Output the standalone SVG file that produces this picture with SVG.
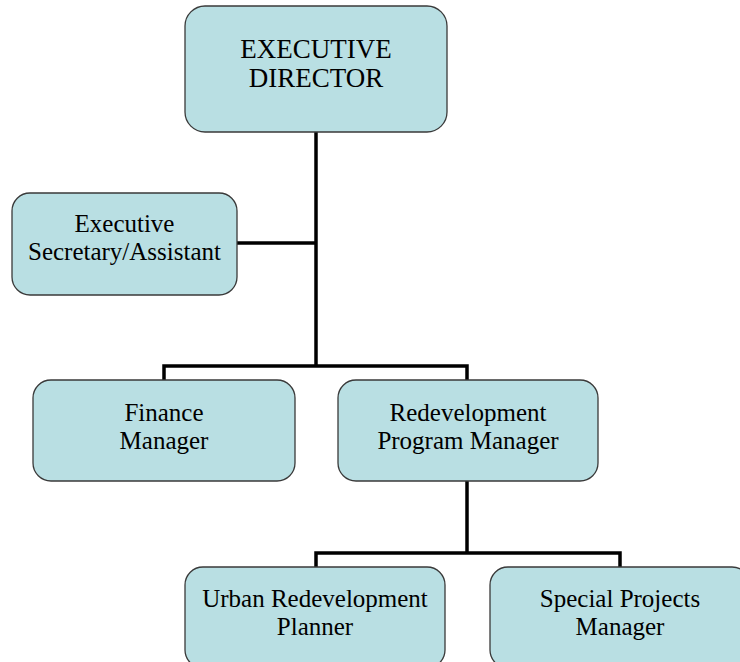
<svg xmlns="http://www.w3.org/2000/svg" width="740" height="662" viewBox="0 0 740 662">
<style>
.box{fill:#B9DFE3;stroke:#3a3a3a;stroke-width:1.3}
.t{font-family:"Liberation Serif","Times New Roman",serif;font-size:25px;fill:#000;text-anchor:middle}
.big{font-size:27px}
.c{fill:none;stroke:#000;stroke-width:3.5}
</style>
<rect width="740" height="662" fill="#fff"/>
<g id="connectors">
<path class="c" d="M316 132 V366"/>
<path class="c" d="M237 243 H316"/>
<path class="c" d="M164 380 V366 H467 V380"/>
<path class="c" d="M467 481 V553"/>
<path class="c" d="M316 567 V553 H620 V567"/>
</g>
<g id="executive-director">
<rect class="box" x="185" y="6" width="262" height="126" rx="20"/>
<text class="t big" x="316" y="58">EXECUTIVE</text>
<text class="t big" x="316" y="87">DIRECTOR</text>
</g>
<g id="executive-secretary">
<rect class="box" x="12" y="193" width="225" height="102" rx="18"/>
<text class="t" x="124.5" y="232">Executive</text>
<text class="t" x="124.5" y="260">Secretary/Assistant</text>
</g>
<g id="finance-manager">
<rect class="box" x="33" y="380" width="262" height="101" rx="18"/>
<text class="t" x="164" y="421">Finance</text>
<text class="t" x="164" y="449">Manager</text>
</g>
<g id="redevelopment-program-manager">
<rect class="box" x="338" y="380" width="260" height="101" rx="18"/>
<text class="t" x="468" y="421">Redevelopment</text>
<text class="t" x="468" y="449">Program Manager</text>
</g>
<g id="urban-redevelopment-planner">
<rect class="box" x="185" y="567" width="260" height="101" rx="18"/>
<text class="t" x="315" y="607">Urban Redevelopment</text>
<text class="t" x="315" y="635">Planner</text>
</g>
<g id="special-projects-manager">
<rect class="box" x="490" y="567" width="260" height="101" rx="18"/>
<text class="t" x="620" y="607">Special Projects</text>
<text class="t" x="620" y="635">Manager</text>
</g>
</svg>
